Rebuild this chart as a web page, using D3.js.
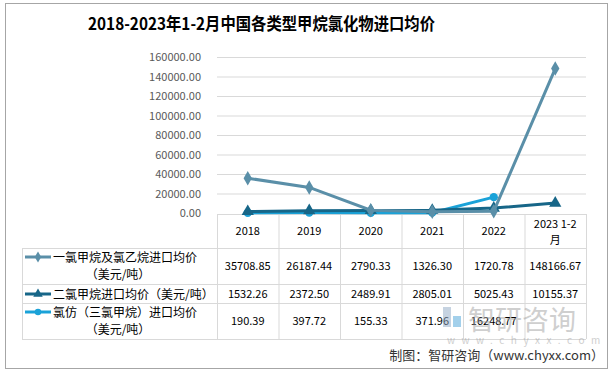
<!DOCTYPE html>
<html>
<head>
<meta charset="utf-8">
<script src="https://cdn.jsdelivr.net/npm/d3@7"></script>
<style>
body{margin:0;background:#fff;}
text{font-family:"Noto Sans CJK SC","Noto Sans",sans-serif;}
</style>
</head>
<body>
<div id="chart"></div>
<script>
// data
const years=["2018","2019","2020","2021","2022","2023 1-2月"];
const monoChloro=[35708.85,26187.44,2790.33,1326.30,1720.78,148166.67];
const diChloro=[1532.26,2372.50,2489.91,2805.01,5025.43,10155.37];
const chloroform=[190.39,397.72,155.33,371.96,16248.77];
const yTicks=[0,20000,40000,60000,80000,100000,120000,140000,160000];
const seriesNames=[["一氯甲烷及氯乙烷进口均价","（美元/吨）"],["二氯甲烷进口均价（美元/吨）"],["氯仿（三氯甲烷）进口均价","（美元/吨）"]];

const width=614,height=371;
const plotL=217,plotR=586,plotT=57,plotB=213;
const svg=d3.select("#chart").append("svg").attr("width",width).attr("height",height);

svg.append("rect").attr("x",5.5).attr("y",3.5).attr("width",602).attr("height",365)
  .attr("fill","#fff").attr("stroke","#a6a6a6");

svg.append("text").attr("x",88).attr("y",30)
  .attr("font-size",17).attr("font-weight","bold").attr("fill","#000")
  .attr("textLength",347).attr("lengthAdjust","spacingAndGlyphs")
  .text("2018-2023年1-2月中国各类型甲烷氯化物进口均价");

const x=d3.scaleBand().domain(years).range([plotL,plotR]);
const y=d3.scaleLinear().domain([0,160000]).range([plotB,plotT]);

// grid
svg.append("g").selectAll("line").data(yTicks.slice(1)).enter().append("line")
  .attr("x1",plotL).attr("x2",plotR).attr("y1",d=>y(d)+0.5).attr("y2",d=>y(d)+0.5)
  .attr("stroke","#d9d9d9");

const yAxis=svg.append("g").attr("transform","translate("+(plotL-13)+",0)")
  .call(d3.axisLeft(y).tickValues(yTicks).tickFormat(d3.format(".2f")).tickSize(0));
yAxis.select(".domain").remove();
yAxis.selectAll("text").attr("font-size",11).attr("fill","#595959")
  .style("font-family","'Noto Sans CJK SC',sans-serif");

// table
const rowY=[214,248,284,303,339];
const tbl=svg.append("g").attr("stroke","#d9d9d9").attr("fill","none");
rowY.forEach((ry,i)=>{
  tbl.append("line").attr("x1",i==0?plotL:22).attr("x2",plotR).attr("y1",ry+0.5).attr("y2",ry+0.5);
});
tbl.append("line").attr("x1",22.5).attr("x2",22.5).attr("y1",248).attr("y2",339);
years.forEach((yr,i)=>{
  const xx=x(yr)+0.5;
  tbl.append("line").attr("x1",xx).attr("x2",xx).attr("y1",214).attr("y2",339);
});
tbl.append("line").attr("x1",plotR+0.5).attr("x2",plotR+0.5).attr("y1",214).attr("y2",339);

// header
const head=svg.append("g").attr("font-size",11).attr("fill","#000").attr("text-anchor","middle");
years.forEach(yr=>{
  const cx=x(yr)+x.bandwidth()/2;
  if(yr.indexOf("月")>=0){
    head.append("text").attr("x",cx).attr("y",228).text("2023 1-2");
    head.append("text").attr("x",cx).attr("y",244).text("月");
  }else{
    head.append("text").attr("x",cx).attr("y",235).text(yr);
  }
});

const series=[
  {vals:monoChloro,color:"#5a8fa8",shape:d3.symbolDiamond,size:60},
  {vals:diChloro,color:"#176688",shape:d3.symbolTriangle,size:65},
  {vals:chloroform,color:"#1aa2d8",shape:d3.symbolCircle,size:55}
];

// lines
const line=d3.line().x((d,i)=>x(years[i])+x.bandwidth()/2).y(d=>y(d));
series.slice().reverse().forEach(s=>{
  svg.append("path").datum(s.vals).attr("fill","none").attr("stroke",s.color)
    .attr("stroke-width",3).attr("d",line);
  svg.append("g").selectAll("path").data(s.vals).enter().append("path")
    .attr("transform",(d,i)=>"translate("+(x(years[i])+x.bandwidth()/2)+","+y(d)+")")
    .attr("d",d3.symbol().type(s.shape).size(s.size)).attr("fill",s.color);
});

// table rows
const rowMid=[266,294,321];
series.forEach((s,r)=>{
  const g=svg.append("g").attr("font-size",11).attr("fill","#000").attr("text-anchor","middle");
  s.vals.forEach((v,i)=>{
    g.append("text").attr("x",x(years[i])+x.bandwidth()/2).attr("y",rowMid[r]+4).text(v.toFixed(2));
  });
  const names=seriesNames[r];
  const ly=names.length>1?rowMid[r]-9:rowMid[r];
  svg.append("line").attr("x1",25).attr("x2",51).attr("y1",ly).attr("y2",ly)
    .attr("stroke",s.color).attr("stroke-width",3);
  svg.append("path").attr("transform","translate(38,"+ly+")")
    .attr("d",d3.symbol().type(s.shape).size(s.size*0.6)).attr("fill",s.color);
  const lt=svg.append("g").attr("font-size",12).attr("fill","#000");
  lt.append("text").attr("x",53).attr("y",ly+4.5).text(names[0]);
  if(names.length>1) lt.append("text").attr("x",118).attr("y",ly+22).attr("text-anchor","middle").text(names[1]);
});

// watermark
const wm=svg.append("g").attr("opacity",0.5);
wm.append("rect").attr("x",443).attr("y",307).attr("width",8).attr("height",20).attr("fill","#8fa9c4");
wm.append("rect").attr("x",453).attr("y",316).attr("width",8).attr("height",11).attr("fill","#4aa3d8");
wm.append("text").attr("x",468).attr("y",330).attr("font-size",27).attr("fill","#a0a0a0").text("智研咨询");
wm.append("text").attr("x",447).attr("y",344).attr("font-size",10).attr("fill","#a0a0a0")
  .attr("letter-spacing",6.5).text("www.chyxx.com");

svg.append("text").attr("x",604).attr("y",360).attr("text-anchor","end").attr("font-size",13)
  .attr("fill","#333").text("制图：智研咨询（www.chyxx.com）");
</script>
</body>
</html>
